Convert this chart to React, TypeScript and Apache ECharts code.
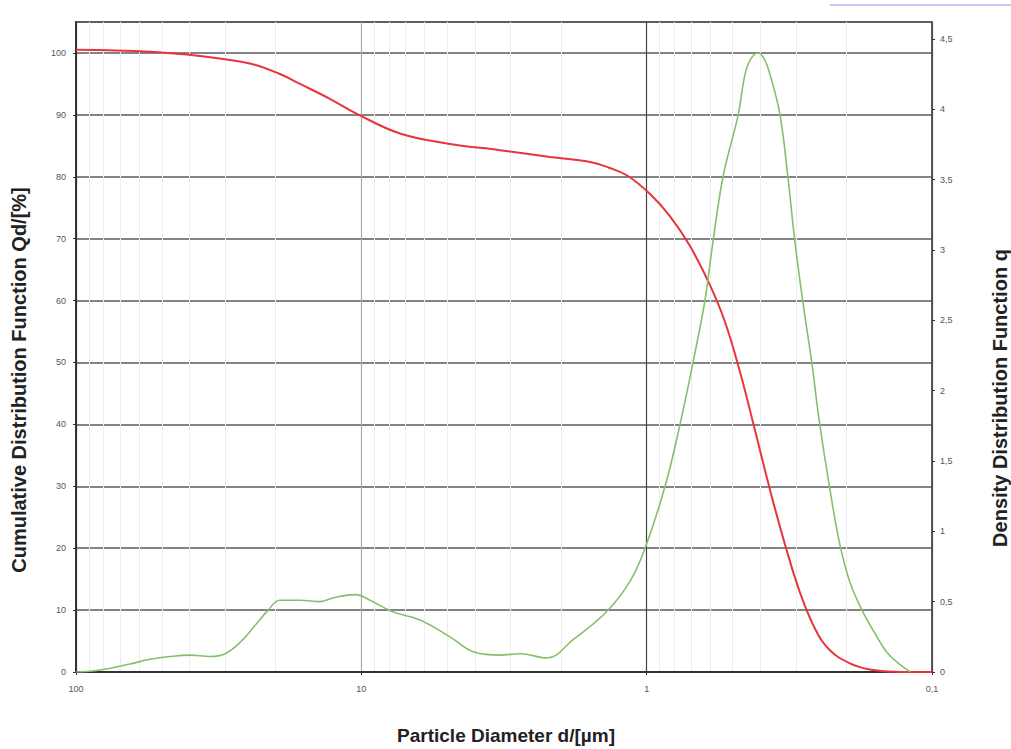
import React, { useEffect, useRef } from "react";
import * as echarts from "echarts";

// Cumulative distribution Q (left axis, %)
const redDiameter = [100, 55, 36.8, 24.6, 19.3, 16.4, 12.9, 10.2, 7.32, 4.89, 3.27, 2.18, 1.58, 1.36, 1.17, 0.973, 0.828, 0.705, 0.6, 0.531, 0.471, 0.417, 0.37, 0.327, 0.29, 0.257, 0.228, 0.194, 0.165, 0.135, 0.1];
const redQ = [100.5, 100.2, 99.5, 98.3, 96.6, 95, 92.6, 90, 87, 85.3, 84.3, 83.2, 82.4, 81.5, 80.2, 77.2, 73.6, 68.8, 62.5, 56.5, 48.5, 39, 29.5, 20.5, 12.8, 7, 3.5, 1.4, 0.4, 0.05, 0];

// Density distribution q (right axis)
const greenDiameter = [100, 82.4, 64.7, 55, 46.8, 39.8, 33.9, 30, 26.6, 23.6, 21.2, 19.3, 16.4, 13.96, 12.4, 10.5, 9.32, 7.81, 6.23, 4.89, 4, 3.27, 2.78, 2.24, 1.81, 1.38, 1.14, 1.013, 0.862, 0.764, 0.688, 0.625, 0.59, 0.54, 0.478, 0.452, 0.431, 0.407, 0.388, 0.37, 0.341, 0.32, 0.302, 0.283, 0.263, 0.249, 0.228, 0.21, 0.194, 0.176, 0.158, 0.144, 0.129, 0.119];
const greenQ = [0, 0.014, 0.057, 0.09, 0.11, 0.12, 0.11, 0.13, 0.21, 0.33, 0.44, 0.51, 0.51, 0.5, 0.53, 0.55, 0.51, 0.43, 0.37, 0.25, 0.14, 0.12, 0.13, 0.1, 0.23, 0.43, 0.65, 0.88, 1.32, 1.76, 2.2, 2.64, 3.01, 3.52, 3.96, 4.25, 4.36, 4.4, 4.36, 4.25, 3.96, 3.52, 3.05, 2.62, 2.18, 1.8, 1.3, 0.9, 0.64, 0.44, 0.27, 0.14, 0.05, 0];

// faint minor vertical gridlines on the log axis
const minorDiameters = [90, 80, 70, 60, 50, 40, 30, 20, 9, 8, 7, 6, 5, 4, 3, 2, 0.9, 0.8, 0.7, 0.6, 0.5, 0.4, 0.3, 0.2];

const xTitle = "Particle Diameter d/[µm]";
const leftTitle = "Cumulative Distribution Function Qd/[%]";
const rightTitle = "Density Distribution Function q";

const comma = (v: number) => String(Number(v.toPrecision(3))).replace(".", ",");

export default function App() {
  const ref = useRef<HTMLDivElement>(null);
  useEffect(() => {
    if (!ref.current) return;
    const chart = echarts.init(ref.current, null, { renderer: "svg" });
    const labelFont = { fontFamily: "Liberation Sans, Arial, sans-serif", fontSize: 9, color: "#555" };
    const titleFont = "bold 20px 'Liberation Sans', Arial, sans-serif";
    chart.setOption({
      animation: false,
      backgroundColor: "#fff",
      grid: {
        left: 76,
        right: 79,
        top: 22,
        bottom: 77,
        show: true,
        borderColor: "#444",
        borderWidth: 1.5,
        outerBoundsMode: "none",
      },
      xAxis: {
        type: "log",
        logBase: 10,
        min: 0.1,
        max: 100,
        inverse: true,
        axisLine: { show: true, lineStyle: { color: "#333", width: 2 } },
        axisTick: { show: true, length: 3, lineStyle: { color: "#333" } },
        axisLabel: { ...labelFont, margin: 12, formatter: (v: number) => comma(v) },
        splitLine: { show: true, lineStyle: { color: ["#444", "#444", "#aaa", "#444"], width: 1.2 } },
      },
      yAxis: [
        {
          type: "value",
          min: 0,
          max: 105,
          interval: 10,
          position: "left",
          axisLine: { show: true, lineStyle: { color: "#333", width: 2 } },
          axisTick: { show: true, length: 3, lineStyle: { color: "#333" } },
          axisLabel: { ...labelFont, margin: 10, showMaxLabel: false, formatter: (v: number) => (v % 10 === 0 ? String(v) : "") },
          splitLine: { show: true, lineStyle: { color: "#5a5a5a", width: 1.5 } },
        },
        {
          type: "value",
          min: 0,
          max: 4.62,
          interval: 0.5,
          position: "right",
          axisLine: { show: true, lineStyle: { color: "#555", width: 1.5 } },
          axisTick: { show: true, length: 3, lineStyle: { color: "#333" } },
          axisLabel: { ...labelFont, margin: 8, showMaxLabel: false, formatter: (v: number) => (Math.abs(v * 2 - Math.round(v * 2)) < 1e-6 ? comma(v) : "") },
          splitLine: { show: false },
        },
      ],
      series: [
        {
          type: "line",
          name: "Q",
          yAxisIndex: 0,
          data: redDiameter.map((d, i) => [d, redQ[i]]),
          smooth: 0.4,
          showSymbol: false,
          z: 3,
          lineStyle: { color: "#e8343c", width: 2 },
          markLine: {
            silent: true,
            symbol: "none",
            label: { show: false },
            lineStyle: { color: "#ededed", width: 1, type: "solid" },
            data: minorDiameters.map((d) => ({ xAxis: d })),
            z: 0,
          },
        },
        {
          type: "line",
          name: "q",
          yAxisIndex: 1,
          data: greenDiameter.map((d, i) => [d, greenQ[i]]),
          smooth: 0.4,
          showSymbol: false,
          z: 4,
          lineStyle: { color: "#86c06c", width: 1.6 },
        },
      ],
      graphic: [
        {
          type: "text",
          x: 506,
          y: 735,
          style: { text: xTitle, font: "bold 19px 'Liberation Sans', Arial, sans-serif", fill: "#222", textAlign: "center", textVerticalAlign: "middle" },
        },
        {
          type: "text",
          x: 19,
          y: 380,
          rotation: Math.PI / 2,
          style: { text: leftTitle, font: titleFont, fill: "#222", textAlign: "center", textVerticalAlign: "middle" },
        },
        {
          type: "text",
          x: 1000,
          y: 398,
          rotation: Math.PI / 2,
          style: { text: rightTitle, font: titleFont, fill: "#222", textAlign: "center", textVerticalAlign: "middle" },
        },
        {
          type: "line",
          shape: { x1: 830, y1: 5, x2: 1011, y2: 5 },
          style: { stroke: "#c9c9ef", lineWidth: 2 },
        },
      ],
    });
    return () => chart.dispose();
  }, []);
  return <div ref={ref} style={{ width: 1011, height: 749, position: "absolute", left: 0, top: 0 }} />;
}
